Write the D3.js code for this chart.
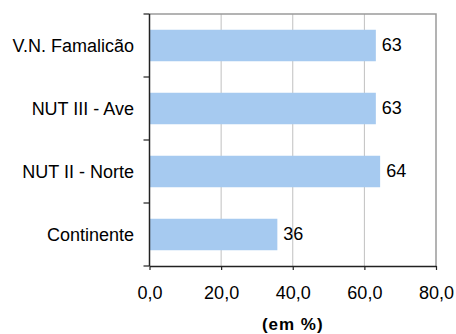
<!DOCTYPE html>
<html>
<head>
<meta charset="utf-8">
<script src="https://cdn.jsdelivr.net/npm/d3@7"></script>
<style>
  html, body { margin: 0; padding: 0; background: #fff; }
  svg { display: block; font-family: "Liberation Sans", Arial, sans-serif; }
</style>
</head>
<body>
<svg id="chart" width="456" height="334"></svg>
<script>
// Regions shown top to bottom and their shares (em %)
const categories = ["V.N. Famalicão", "NUT III - Ave", "NUT II - Norte", "Continente"];
const values = [63.2, 63.2, 64.4, 35.7];
const xTicks = [0, 20, 40, 60, 80];
const xTitle = "(em %)";

const svg = d3.select("#chart");
const plotLeft = 149.5, plotRight = 436, plotTop = 14, plotBottom = 266;

const x = d3.scaleLinear().domain([0, 80]).range([plotLeft, plotRight]);
const y = d3.scaleBand().domain(categories).range([plotTop, plotBottom])
  .paddingInner(0.5).paddingOuter(0.25);

const fmtTick = d => d3.format(".1f")(d).replace(".", ",");
const fmtVal = d3.format(".0f");

// Vertical gridlines
svg.append("g").selectAll("line")
  .data(xTicks.filter(t => t > 0 && t < 80))
  .join("line")
  .attr("x1", d => x(d)).attr("x2", d => x(d))
  .attr("y1", plotTop).attr("y2", plotBottom)
  .attr("stroke", "#c0c0c0").attr("stroke-width", 1);

// Plot frame: top and right edges
svg.append("path")
  .attr("d", `M${plotLeft},${plotTop}H${plotRight}V${plotBottom}`)
  .attr("fill", "none").attr("stroke", "#9a9a9a").attr("stroke-width", 1.5);

// Bars
svg.append("g").selectAll("rect")
  .data(categories)
  .join("rect")
  .attr("x", x(0))
  .attr("y", d => y(d))
  .attr("width", (d, i) => x(values[i]) - x(0))
  .attr("height", y.bandwidth())
  .attr("fill", "#a6caf0");

// Value labels
svg.append("g").selectAll("text")
  .data(categories)
  .join("text")
  .attr("x", (d, i) => x(values[i]) + 6)
  .attr("y", d => y(d) + y.bandwidth() / 2 + 5)
  .attr("font-size", 18)
  .attr("fill", "#000")
  .text((d, i) => fmtVal(values[i]));

// Bottom axis
const xAxis = svg.append("g").attr("transform", `translate(0,${plotBottom})`)
  .call(d3.axisBottom(x).tickValues(xTicks).tickSize(4).tickSizeOuter(0).tickPadding(16).tickFormat(fmtTick));
xAxis.select(".domain").attr("stroke", "#222").attr("stroke-width", 1.5);
xAxis.selectAll(".tick line").attr("stroke", "#222").attr("stroke-width", 1.2);
xAxis.selectAll(".tick text").attr("font-size", 18).attr("font-family", "Liberation Sans, Arial, sans-serif").attr("fill", "#000");

// Left axis: ticks sit on the band boundaries
const boundaries = d3.range(categories.length + 1).map(i => plotTop + i * y.step());
const yAxis = svg.append("g");
yAxis.append("line")
  .attr("x1", plotLeft).attr("x2", plotLeft).attr("y1", plotTop).attr("y2", plotBottom)
  .attr("stroke", "#222").attr("stroke-width", 1.5);
yAxis.selectAll("line.t").data(boundaries).join("line").attr("class", "t")
  .attr("x1", plotLeft - 6).attr("x2", plotLeft)
  .attr("y1", d => d).attr("y2", d => d)
  .attr("stroke", "#222").attr("stroke-width", 1.2);

// Category labels
svg.append("g").selectAll("text")
  .data(categories)
  .join("text")
  .attr("x", 134)
  .attr("y", d => y(d) + y.bandwidth() / 2 + 6)
  .attr("text-anchor", "end")
  .attr("font-size", 18)
  .attr("fill", "#000")
  .text(d => d);

// Axis title
svg.append("text")
  .attr("x", (plotLeft + plotRight) / 2)
  .attr("y", 330)
  .attr("text-anchor", "middle")
  .attr("font-size", 17)
  .attr("font-weight", "bold")
  .attr("letter-spacing", 1)
  .text(xTitle);
</script>
</body>
</html>
